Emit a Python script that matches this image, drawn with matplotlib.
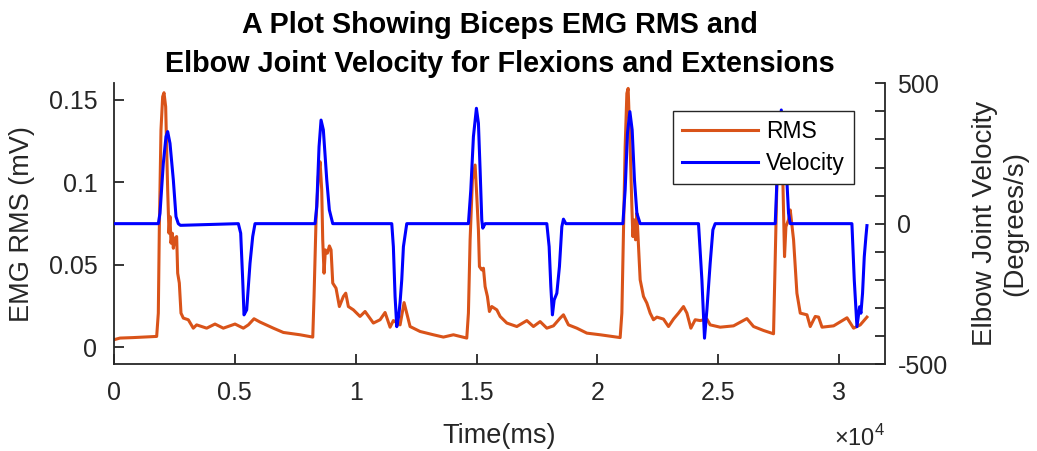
import matplotlib
matplotlib.use("Agg")
import matplotlib.pyplot as plt
from matplotlib.ticker import MultipleLocator

plt.rcParams['font.family'] = ['Liberation Sans', 'DejaVu Sans']
plt.rcParams['mathtext.fontset'] = 'custom'
plt.rcParams['mathtext.rm'] = 'Liberation Sans'
plt.rcParams['axes.unicode_minus'] = False

# EMG RMS (mV) breakpoints, time in ms
rms_t = [0, 248, 800, 1767, 1835, 1876, 1945, 2015, 2070, 2139, 2180, 2222, 2277, 2318,
         2359, 2414, 2456, 2525, 2594, 2636, 2704, 2773, 2870, 3075, 3282, 3420, 3630,
         3836, 4180, 4524, 5008, 5353, 5560, 5795, 6043, 6595, 7009, 7699, 8225, 8278,
         8361, 8457, 8527, 8596, 8637, 8692, 8747, 8830, 8913, 8982, 9052, 9188, 9326,
         9491, 9590, 9698, 9905, 10181, 10389, 10733, 11010, 11217, 11424, 11560, 11838,
         12003, 12114, 12251, 12665, 13216, 13630, 14044, 14597, 14665, 14735, 14830,
         14942, 15012, 15079, 15121, 15218, 15287, 15356, 15451, 15534, 15633, 15840,
         15977, 16254, 16668, 17082, 17355, 17632, 17909, 18183, 18460, 18597, 18804,
         19151, 19565, 20116, 20943, 21014, 21080, 21150, 21221, 21274, 21357, 21428,
         21469, 21524, 21579, 21635, 21771, 21909, 22047, 22185, 22322, 22463, 22736,
         22943, 23150, 23357, 23564, 23705, 23869, 24048, 24255, 24532, 24668, 25082,
         25634, 26186, 26462, 26875, 27289, 27359, 27429, 27565, 27677, 27744, 27802,
         27910, 27980, 28118, 28256, 28395, 28672, 28808, 29015, 29153, 29295, 29775,
         30329, 30600, 30877, 31154]
rms_v = [0.0047, 0.0057, 0.0060, 0.0067, 0.0208, 0.0712, 0.1317, 0.1519, 0.1543, 0.1458,
         0.1216, 0.0954, 0.0692, 0.0793, 0.0632, 0.0692, 0.0601, 0.0662, 0.0672, 0.0450,
         0.0390, 0.0208, 0.0178, 0.0168, 0.0117, 0.0137, 0.0127, 0.0117, 0.0142, 0.0117,
         0.0142, 0.0117, 0.0137, 0.0174, 0.0154, 0.0117, 0.0091, 0.0077, 0.0063, 0.0309,
         0.0773, 0.1035, 0.1125, 0.0954, 0.0652, 0.0450, 0.0591, 0.0571, 0.0615, 0.0591,
         0.0390, 0.0359, 0.0248, 0.0309, 0.0329, 0.0248, 0.0228, 0.0188, 0.0218, 0.0148,
         0.0168, 0.0212, 0.0123, 0.0163, 0.0137, 0.0272, 0.0208, 0.0127, 0.0097, 0.0077,
         0.0063, 0.0077, 0.0057, 0.0208, 0.0652, 0.1015, 0.1105, 0.0914, 0.0712, 0.0490,
         0.0470, 0.0480, 0.0369, 0.0309, 0.0218, 0.0248, 0.0228, 0.0188, 0.0148, 0.0127,
         0.0163, 0.0127, 0.0157, 0.0117, 0.0131, 0.0178, 0.0198, 0.0137, 0.0117, 0.0087,
         0.0077, 0.0060, 0.0208, 0.0712, 0.1216, 0.1539, 0.1569, 0.1216, 0.0853, 0.0672,
         0.0773, 0.0652, 0.0813, 0.0410, 0.0309, 0.0269, 0.0208, 0.0168, 0.0184, 0.0172,
         0.0127, 0.0172, 0.0208, 0.0248, 0.0208, 0.0117, 0.0168, 0.0163, 0.0172, 0.0137,
         0.0123, 0.0131, 0.0175, 0.0127, 0.0103, 0.0083, 0.0530, 0.1000, 0.1350, 0.1000,
         0.0550, 0.0732, 0.0773, 0.0833, 0.0652, 0.0329, 0.0208, 0.0198, 0.0127, 0.0188,
         0.0184, 0.0123, 0.0131, 0.0180, 0.0117, 0.0137, 0.0184]

# elbow joint velocity (degrees/s) breakpoints
vel_t = [0, 1835, 1904, 2042, 2152, 2222, 2318, 2456, 2566, 2662, 2750, 5146, 5243, 5326,
         5381, 5491, 5629, 5740, 5836, 8319, 8389, 8485, 8568, 8663, 8804, 8911, 9052,
         11494, 11560, 11631, 11701, 11780, 11838, 11907, 11976, 12114, 14665, 14764,
         14872, 14996, 15079, 15149, 15218, 15260, 15356, 17909, 18005, 18075, 18141,
         18212, 18323, 18431, 18530, 18597, 18696, 21055, 21150, 21246, 21345, 21440,
         21535, 21635, 21771, 24185, 24325, 24433, 24532, 24668, 24780, 24875, 27359,
         27429, 27610, 27843, 27910, 27980, 28118, 30532, 30629, 30740, 30850, 30905,
         30972, 31043, 31112, 31154]
vel_v = [0, 0, 37, 215, 310, 328, 286, 156, 25, 0, -6, 0, -34, -200,
         -325, -307, -141, -46, 0, 0, 61, 274, 369, 334, 156, 49, 0,
         0, -82, -260, -367, -330, -280, -200, -82, 0, 0, 120,
         310, 411, 358, 191, 13, -16, 0, 0, -82, -224, -325,
         -272, -248, -153, -11, 16, 0, 0, 120, 322, 399, 334,
         156, 37, 0, 0, -200, -408, -307, -141, -22, 0, 0,
         150, 405, 150, 37, 0, 0, 0, -200, -367, -296, -319,
         -248, -118, -46, -7]

xtick_vals = [0, 5000, 10000, 15000, 20000, 25000, 30000]
xtick_labels = ['0', '0.5', '1', '1.5', '2', '2.5', '3']

dark = '#262626'
orange = '#D95319'
blue = '#0000FF'

fig = plt.figure(figsize=(10.37, 4.51), dpi=100)
ax = fig.add_axes([0.1099, 0.1929, 0.7435, 0.6224])
ax2 = ax.twinx()

l1, = ax.plot(rms_t, rms_v, color=orange, lw=2.2, label='RMS')
l2, = ax2.plot(vel_t, vel_v, color=blue, lw=2.2, label='Velocity')

ax.set_xlim(0, 31900)
ax.set_ylim(-0.01, 0.16)
ax2.set_ylim(-500, 500)

ax.set_xticks(xtick_vals)
ax.set_xticklabels(xtick_labels)
ax.set_yticks([0, 0.05, 0.1, 0.15])
ax.set_yticklabels(['0', '0.05', '0.1', '0.15'])
ax2.set_yticks([-500, 0, 500])
ax2.yaxis.set_minor_locator(MultipleLocator(100))

for a in (ax, ax2):
    a.spines['top'].set_visible(False)
    for s in a.spines.values():
        s.set_color(dark)
        s.set_linewidth(1.3)
ax.spines['right'].set_visible(False)
ax2.spines['left'].set_visible(False)
ax2.spines['bottom'].set_visible(False)

ax.tick_params(axis='both', direction='in', length=7, width=1.3, colors=dark,
               labelsize=18, pad=12)
ax.tick_params(axis='y', pad=12)
ax2.tick_params(axis='y', which='both', direction='in', length=7, width=1.3,
                colors=dark, labelsize=18, pad=9)

ax.set_title('A Plot Showing Biceps EMG RMS and\nElbow Joint Velocity for Flexions and Extensions',
             fontsize=20.7, fontweight='bold', color='black', pad=8, linespacing=1.5)

ax.set_ylabel('EMG RMS (mV)', fontsize=19.5, color=dark)
ax.yaxis.set_label_coords(-0.1025, 0.5)
ax2.set_ylabel('Elbow Joint Velocity\n(Degrees/s)', fontsize=20, color=dark,
               rotation=90, va='center', linespacing=1.2)
ax2.yaxis.set_label_coords(1.149, 0.5)
ax.set_xlabel('Time(ms)', fontsize=19.5, color=dark, va='center')
ax.xaxis.set_label_coords(0.5, -0.2565)

ax.text(1.0, -0.264, r'$\times$10$^{4}$', transform=ax.transAxes, ha='right',
        va='center', fontsize=17, color=dark)

leg = ax2.legend([l1, l2], ['RMS', 'Velocity'], loc='upper left',
                 bbox_to_anchor=(0.725, 0.9025), fontsize=16.5, frameon=True,
                 fancybox=False, framealpha=1, edgecolor=dark, borderpad=0.4,
                 handlelength=3.3, handletextpad=0.35, labelspacing=0.4,
                 borderaxespad=0)
leg.get_frame().set_linewidth(1.0)

fig.savefig('out.png', dpi=100)
